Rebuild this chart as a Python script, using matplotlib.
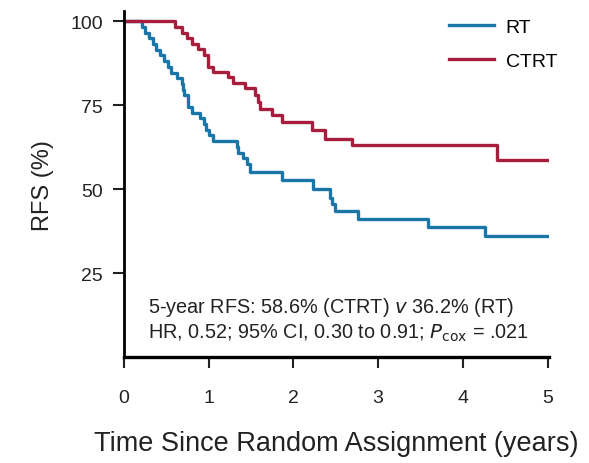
import numpy as np
import matplotlib
matplotlib.use('Agg')
from matplotlib import pyplot as plt

plt.rcParams['font.family'] = ['Liberation Sans', 'DejaVu Sans']

# Kaplan-Meier step data (time in years, RFS in %)
rt_time = [0, 0.21, 0.25, 0.30, 0.34, 0.38, 0.42, 0.47, 0.52, 0.56, 0.62, 0.68, 0.70, 0.71,
           0.76, 0.80, 0.90, 0.95, 0.97, 1.00, 1.05, 1.33, 1.35, 1.40, 1.45, 1.49, 1.86,
           2.23, 2.43, 2.45, 2.49, 2.76, 3.59, 4.26, 5.0]
rt_rfs = [100, 98.3, 96.6, 94.9, 93.2, 91.5, 89.8, 88.1, 86.4, 84.7, 83.0, 81.3, 79.6, 77.9,
          74.5, 72.8, 71.1, 69.4, 67.7, 66.0, 64.3, 62.6, 60.9, 59.2, 57.5, 55.0, 52.6,
          50.0, 47.5, 45.5, 43.5, 41.1, 38.6, 36.2, 36.2]

ctrt_time = [0, 0.60, 0.68, 0.74, 0.80, 0.87, 0.95, 0.99, 1.05, 1.23, 1.29, 1.43, 1.55,
             1.58, 1.61, 1.75, 1.86, 2.22, 2.37, 2.69, 4.40, 5.0]
ctrt_rfs = [100, 98.2, 96.5, 95.0, 93.3, 91.7, 90.0, 86.5, 85.0, 83.3, 81.7, 80.0, 78.0,
            76.0, 74.0, 72.0, 70.0, 67.5, 65.0, 63.0, 58.6, 58.6]

x_ticks = [0, 1, 2, 3, 4, 5]
y_ticks = [25, 50, 75, 100]

blue = '#1a76a6'
red = '#a81c3c'
txt = '#222222'

fig = plt.figure(figsize=(5.89, 4.64), dpi=100)
ax = fig.add_axes([0.2105, 0.228, 0.722, 0.746])

ax.step(rt_time, rt_rfs, where='post', color=blue, lw=2.4, label='RT')
ax.step(ctrt_time, ctrt_rfs, where='post', color=red, lw=2.4, label='CTRT')

ax.set_xlim(0, 5.02)
ax.set_ylim(0, 103)
ax.set_xticks(x_ticks)
ax.set_yticks(y_ticks)
ax.spines['top'].set_visible(False)
ax.spines['right'].set_visible(False)
ax.spines['left'].set_linewidth(2)
ax.spines['bottom'].set_linewidth(2.4)
ax.tick_params(axis='x', length=8, width=1.5, pad=15, labelsize=14, colors=txt)
ax.tick_params(axis='y', length=8, width=1.5, pad=7, labelsize=14, colors=txt)

ax.set_ylabel('RFS (%)', fontsize=17, color=txt, labelpad=12)
ax.set_xlabel('Time Since Random Assignment (years)', fontsize=19.5, color=txt, labelpad=17)

ax.legend(loc='upper right', frameon=False, fontsize=14, handlelength=2.3,
          labelspacing=0.85, handletextpad=0.6, bbox_to_anchor=(1.06, 1.03))

ax.text(0.28, 15.2, '5-year RFS: 58.6% (CTRT) $\\it{v}$ 36.2% (RT)', va='center',
        fontsize=14.3, color=txt)
ax.text(0.28, 7.4, 'HR, 0.52; 95% CI, 0.30 to 0.91; $\\it{P}_{\\rm cox}$ = .021', va='center',
        fontsize=14.3, color=txt)

plt.savefig('out.png', dpi=100)
